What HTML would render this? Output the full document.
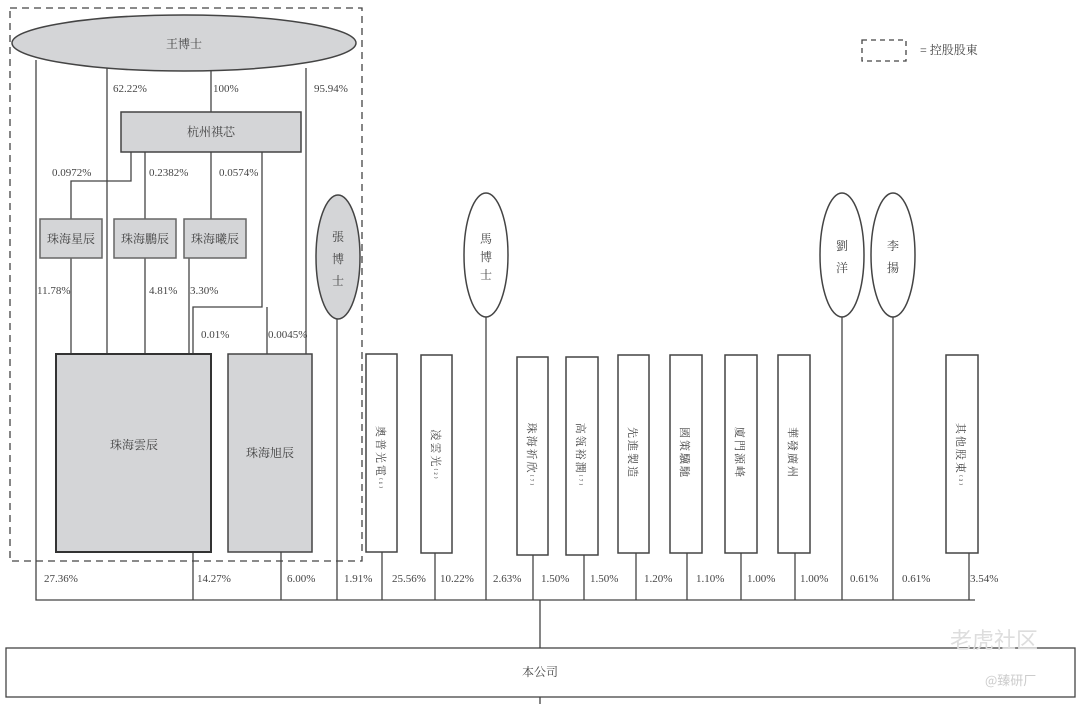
<!DOCTYPE html>
<html><head><meta charset="utf-8"><style>
html,body{margin:0;padding:0;background:#fff;width:1080px;height:704px;overflow:hidden}
svg{display:block}
text{font-family:"Liberation Serif","Noto Serif CJK SC","Noto Sans CJK TC",serif;fill:#444;font-size:11px}
.c{font-size:12px}
.v{font-size:14px;letter-spacing:2px}
</style></head><body>
<svg width="1080" height="704" viewBox="0 0 1080 704" xmlns="http://www.w3.org/2000/svg">
<g stroke="#444" stroke-width="1.3" fill="none">
<rect x="10" y="8" width="352" height="553" stroke-dasharray="7,5"/>
<rect x="862" y="40" width="44" height="21" stroke-dasharray="5,4"/>
<path d="M36 60V600H975"/>
<path d="M107 68V355M211 71V112M306 68V355"/>
<path d="M131 152V181H71V219M145 152V219M211 152V219M262 152V307H193V355M267 307V355"/>
<path d="M71 258V355M145 258V355M189 258V355"/>
<path d="M193 552V600M281 552V600M337 318V600"/>
<path d="M382 552V600M435 552V600M486 316V600M533 555V600M584 555V600M636 553V600M687 553V600M741 553V600M795 553V600M842 316V600M893 316V600M969 553V600"/>
<path d="M540 600V648M540 697V704"/>
</g>
<g stroke="#444" stroke-width="1.5">
<ellipse cx="184" cy="43" rx="172" ry="28" fill="#d4d5d7"/>
<rect x="121" y="112" width="180" height="40" fill="#d4d5d7"/>
<rect x="40" y="219" width="62" height="39" fill="#d4d5d7" stroke="#666"/>
<rect x="114" y="219" width="62" height="39" fill="#d4d5d7" stroke="#666"/>
<rect x="184" y="219" width="62" height="39" fill="#d4d5d7" stroke="#666"/>
<rect x="56" y="354" width="155" height="198" fill="#d4d5d7" stroke="#333" stroke-width="2"/>
<rect x="228" y="354" width="84" height="198" fill="#d4d5d7"/>
<ellipse cx="338" cy="257" rx="22" ry="62" fill="#d4d5d7"/>
<ellipse cx="486" cy="255" rx="22" ry="62" fill="#fff"/>
<ellipse cx="842" cy="255" rx="22" ry="62" fill="#fff"/>
<ellipse cx="893" cy="255" rx="22" ry="62" fill="#fff"/>
<g fill="#fff">
<rect x="366" y="354" width="31" height="198"/>
<rect x="421" y="355" width="31" height="198"/>
<rect x="517" y="357" width="31" height="198"/>
<rect x="566" y="357" width="32" height="198"/>
<rect x="618" y="355" width="31" height="198"/>
<rect x="670" y="355" width="32" height="198"/>
<rect x="725" y="355" width="32" height="198"/>
<rect x="778" y="355" width="32" height="198"/>
<rect x="946" y="355" width="32" height="198"/>
</g>
<rect x="6" y="648" width="1069" height="49" fill="#fff" stroke-width="1.3"/>
</g>
<g text-anchor="middle">
<text x="184" y="48" class="c">王博士</text>
<text x="211" y="136" class="c">杭州祺芯</text>
<text x="71" y="243" class="c">珠海星辰</text>
<text x="145" y="243" class="c">珠海鵬辰</text>
<text x="215" y="243" class="c">珠海曦辰</text>
<text x="134" y="449" class="c">珠海雲辰</text>
<text x="270" y="457" class="c">珠海旭辰</text>
<text x="338" y="241" class="c">張</text><text x="338" y="263" class="c">博</text><text x="338" y="285" class="c">士</text>
<text x="486" y="243" class="c">馬</text><text x="486" y="261" class="c">博</text><text x="486" y="279" class="c">士</text>
<text x="842" y="250" class="c">劉</text><text x="842" y="272" class="c">洋</text>
<text x="893" y="250" class="c">李</text><text x="893" y="272" class="c">揚</text>
<text x="540" y="676" class="c">本公司</text>
</g>
<g class="v" text-anchor="middle">
<text transform="translate(377,458) rotate(90)">奧普光電<tspan font-size="8">⁽¹⁾</tspan></text>
<text transform="translate(432,455) rotate(90)">凌雲光<tspan font-size="8">⁽²⁾</tspan></text>
<text transform="translate(528,455) rotate(90)">珠海祈欣<tspan font-size="8">⁽⁷⁾</tspan></text>
<text transform="translate(577,455) rotate(90)">高瓴裕潤<tspan font-size="8">⁽⁷⁾</tspan></text>
<text transform="translate(629,453) rotate(90)">先進製造</text>
<text transform="translate(681,453) rotate(90)">國策驥馳</text>
<text transform="translate(736,453) rotate(90)">廈門源峰</text>
<text transform="translate(789,453) rotate(90)">華發廣州</text>
<text transform="translate(957,455) rotate(90)">其他股東<tspan font-size="8">⁽³⁾</tspan></text>
</g>
<g>
<text x="113" y="92">62.22%</text><text x="213" y="92">100%</text><text x="314" y="92">95.94%</text>
<text x="52" y="176">0.0972%</text><text x="149" y="176">0.2382%</text><text x="219" y="176">0.0574%</text>
<text x="37" y="294">11.78%</text><text x="149" y="294">4.81%</text><text x="190" y="294">3.30%</text>
<text x="201" y="338">0.01%</text><text x="268" y="338">0.0045%</text>
<text x="44" y="582">27.36%</text><text x="197" y="582">14.27%</text><text x="287" y="582">6.00%</text><text x="344" y="582">1.91%</text>
<text x="392" y="582">25.56%</text><text x="440" y="582">10.22%</text><text x="493" y="582">2.63%</text><text x="541" y="582">1.50%</text>
<text x="590" y="582">1.50%</text><text x="644" y="582">1.20%</text><text x="696" y="582">1.10%</text><text x="747" y="582">1.00%</text>
<text x="800" y="582">1.00%</text><text x="850" y="582">0.61%</text><text x="902" y="582">0.61%</text><text x="970" y="582">3.54%</text>
<text x="920" y="54" class="c">= 控股股東</text>
</g>
<text x="950" y="648" style="font-size:22px;fill:#ddd;font-family:'Noto Sans CJK SC',sans-serif">老虎社区</text>
<text x="985" y="685" style="font-size:13px;fill:#ccc;font-family:'Noto Sans CJK SC',sans-serif">@臻研厂</text>
</svg>
</body></html>
